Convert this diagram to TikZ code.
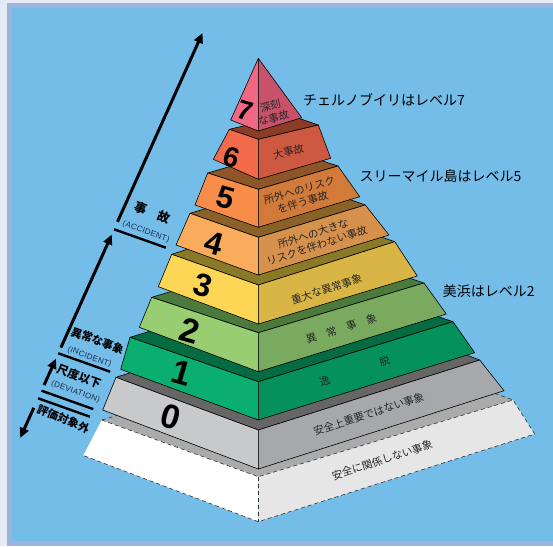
\documentclass[tikz,border=0pt]{standalone}
\usepackage{fontspec}
\setmainfont{Liberation Sans}
\newfontfamily\jp{Noto Sans CJK JP}
\usetikzlibrary{calc,arrows.meta}
\definecolor{bgblue}{HTML}{74BDE9}
\definecolor{framelav}{HTML}{9DB3DF}
\definecolor{framewhite}{HTML}{E4EAF6}
\definecolor{sevT}{HTML}{F06882}\definecolor{sevR}{HTML}{C9526B}
\definecolor{sixT}{HTML}{8C3C24}\definecolor{sixL}{HTML}{F26A4A}\definecolor{sixR}{HTML}{CC5940}
\definecolor{fivT}{HTML}{8D5528}\definecolor{fivL}{HTML}{F88D4A}\definecolor{fivR}{HTML}{D27A3A}
\definecolor{fouT}{HTML}{8A6228}\definecolor{fouL}{HTML}{F9AD5C}\definecolor{fouR}{HTML}{D6924C}
\definecolor{thrT}{HTML}{8A7A28}\definecolor{thrL}{HTML}{FED655}\definecolor{thrR}{HTML}{D9B546}
\definecolor{twoT}{HTML}{4C7A3C}\definecolor{twoL}{HTML}{98CD72}\definecolor{twoR}{HTML}{79AA5F}
\definecolor{oneT}{HTML}{056B40}\definecolor{oneL}{HTML}{0AAE6E}\definecolor{oneR}{HTML}{05915B}
\definecolor{zerT}{HTML}{666666}\definecolor{zerL}{HTML}{C8C9CB}\definecolor{zerR}{HTML}{A7A8AB}
\definecolor{basT}{HTML}{ABABAB}\definecolor{basL}{HTML}{FFFFFF}\definecolor{basR}{HTML}{E6E6E6}
\definecolor{navytxt}{HTML}{1C2B4A}
% #1 prefix colour, #2 Lt, #3 Ft, #4 Rt, #5 Lb, #6 Fb, #7 Rb
\newcommand{\pyrtier}[7]{%
  \filldraw[fill=#1T, edgeln] #2 -- #3 -- #4 -- ($#2+#4-#3$) -- cycle;
  \filldraw[fill=#1L, edgeln] #2 -- #3 -- #6 -- #5 -- cycle;
  \filldraw[fill=#1R, edgeln] #3 -- #4 -- #7 -- #6 -- cycle;
}
\begin{document}
\begin{tikzpicture}[x=1pt,y=-1pt,
  edgeln/.style={draw=black,line width=0.6pt,line join=round},
  dashln/.style={draw=black!80,line width=0.6pt,dash pattern=on 4pt off 3pt},
  facelbl/.style={font=\jp\fontsize{10.5}{12.5}\selectfont,text=black!85,rotate=18,inner sep=0pt,align=center},
  lvnum/.style={font=\bfseries\fontsize{#1}{#1}\selectfont,rotate=-16,inner sep=0pt},
  sidelbl/.style={font=\jp\fontsize{14}{16}\selectfont,anchor=west,inner sep=0pt},
  scalelbl/.style={font=\jp\bfseries\fontsize{#1}{#1}\selectfont,rotate=-20,inner sep=0pt},
  englbl/.style={font=\fontsize{8}{8}\selectfont\addfontfeatures{LetterSpace=4},text=navytxt,rotate=-20,inner sep=0pt},
  tick/.style={line width=2.4pt},
  scarrow/.style={line width=3pt,-{Triangle[length=10pt,width=9pt]}}
]
\useasboundingbox (0,0) rectangle (553,546);
\fill[framewhite] (0,0) rectangle (553,546);
\fill[framelav] (7,3) rectangle (553,546);
\fill[bgblue] (12,8) rectangle (553,541);

% ---------- base tier (dashed) ----------
\fill[basT] (101.7,420) -- (258.3,476.7) -- (513,400) -- ($(101.7,420)+(513,400)-(258.3,476.7)$) -- cycle;
\draw[dashln] (101.7,420) -- ($(101.7,420)+(513,400)-(258.3,476.7)$) -- (513,400);
\fill[basL] (101.7,420) -- (258.3,476.7) -- (258.3,521.7) -- (83.3,455.5) -- cycle;
\fill[basR] (258.3,476.7) -- (513,400) -- (534.7,434) -- (258.3,521.7) -- cycle;
\draw[dashln] (101.7,420) -- (258.3,476.7) -- (513,400) -- (534.7,434) -- (258.3,521.7) -- (83.3,455.5);
\draw[dashln] (258.3,476.7) -- (258.3,521.7);

% ---------- tiers 0..6 ----------
\pyrtier{zer}{(116,377.3)}{(258.3,430)}{(479.7,360)}{(102.7,410)}{(258.3,469)}{(504,390.7)}
\pyrtier{one}{(130,337.3)}{(258.3,381.7)}{(453,321.7)}{(120.7,369.3)}{(258.3,420)}{(474.7,352.7)}
\pyrtier{two}{(151.7,297.3)}{(258.3,332.7)}{(424,283)}{(139.3,327.3)}{(258.3,371.7)}{(446.3,314)}
\pyrtier{thr}{(171.7,254.3)}{(258.3,285)}{(394.7,241.7)}{(158.3,286.7)}{(258.3,324)}{(417.3,276)}
\pyrtier{fou}{(190,213.3)}{(258.3,237.3)}{(365.3,205)}{(176,245)}{(258.3,275)}{(389,235)}
\pyrtier{fiv}{(207.7,173)}{(258.3,189.3)}{(338,166)}{(195,205)}{(258.3,227.3)}{(359.7,196.7)}
\pyrtier{six}{(229.3,129.3)}{(258.3,139.3)}{(318.3,125)}{(213.3,159.3)}{(258.3,179.3)}{(330.7,158.3)}
% ---------- apex tier 7 ----------
\filldraw[fill=sevT, edgeln] (258.3,58.3) -- (230.7,120) -- (258.3,131) -- cycle;
\filldraw[fill=sevR, edgeln] (258.3,58.3) -- (258.3,131) -- (301.7,117.7) -- cycle;

% ---------- level numbers ----------
\node[lvnum=27] (n7) at (245,111) {7};
\node[lvnum=28] (n6) at (231.7,157.7) {6};
\node[lvnum=31] (n5) at (226,197.5) {5};
\node[lvnum=32] (n4) at (214,243) {4};
\node[lvnum=32] (n3) at (203.3,285.5) {3};
\node[lvnum=34] (n2) at (190,331) {2};
\node[lvnum=34] (n1) at (181.7,373.3) {1};
\node[lvnum=34] (n0) at (171,416.7) {0};

% ---------- face labels ----------
\node[facelbl,rotate=-3] (f7) at (272,112) {深刻\\な事故};
\node[facelbl,rotate=-4] (f6) at (288.5,151.5) {大事故};
\node[facelbl,rotate=-2] (f5) at (301,196.2) {所外へのリスク\\を伴う事故};
\node[facelbl] (f4) at (315,239.7) {所外への大きな\\リスクを伴わない事故};
\node[facelbl] (f3) at (326.7,289.3) {重大な異常事象};
\node[facelbl] (f2) at (341.3,328.8) {異　常　事　象};
\node[facelbl] (f1) at (354.7,371) {逸　　　　　脱};
\node[facelbl] (f0) at (368.8,414) {安全上重要ではない事象};
\node[facelbl] (fb) at (382.2,460) {安全に関係しない事象};

% ---------- right annotations ----------
\node[sidelbl] (c7) at (303,99.5) {チェルノブイリはレベル7};
\node[sidelbl] (c5) at (359.3,176) {スリーマイル島はレベル5};
\node[sidelbl] (c2) at (442.7,291) {美浜はレベル2};

% ---------- scale on the left ----------
\coordinate (a1tip) at (202.5,33);
\coordinate (a1st) at (117.5,221.8);
\coordinate (t1a) at (114.1,229.3); \coordinate (t1b) at (165.9,247.7);
\coordinate (a2tip) at (111.8,234.5);
\coordinate (a2st) at (60.9,347.6);
\coordinate (t2a) at (58.3,353.3); \coordinate (t2b) at (110.1,371.7);
\coordinate (a3tip) at (56.0,358.6);
\coordinate (a3st) at (44.1,385.0);
\coordinate (t3a) at (41.5,390.7); \coordinate (t3b) at (93.3,409.1);
\coordinate (t4a) at (38.1,398.3); \coordinate (t4b) at (89.9,416.7);
\coordinate (a4st) at (33.8,407.8);
\coordinate (a4tip) at (20.2,437.9);
\draw[scarrow] (a1st) -- (a1tip);
\draw[scarrow] (a2st) -- (a2tip);
\draw[scarrow] (a3st) -- (a3tip);
\draw[scarrow] (a4st) -- (a4tip);
\draw[tick] (t1a) -- (t1b);
\draw[tick] (t2a) -- (t2b);
\draw[tick] (t3a) -- (t3b);
\draw[tick] (t4a) -- (t4b);

\node[scalelbl=12.5] (accj) at (152.5,212.5) {事　故};
\node[englbl] (acce) at (146,232) {(ACCIDENT)};
\node[scalelbl=11] (incj) at (97.5,340.5) {異常な事象};
\node[englbl] (ince) at (89.5,357) {(INCIDENT)};
\node[scalelbl=11.5] (devj) at (79,376) {尺度以下};
\node[englbl] (deve) at (75.5,392) {(DEVIATION)};
\node[scalelbl=11,rotate=-2] (outj) at (63.3,419) {評価対象外};
\end{tikzpicture}
\end{document}
